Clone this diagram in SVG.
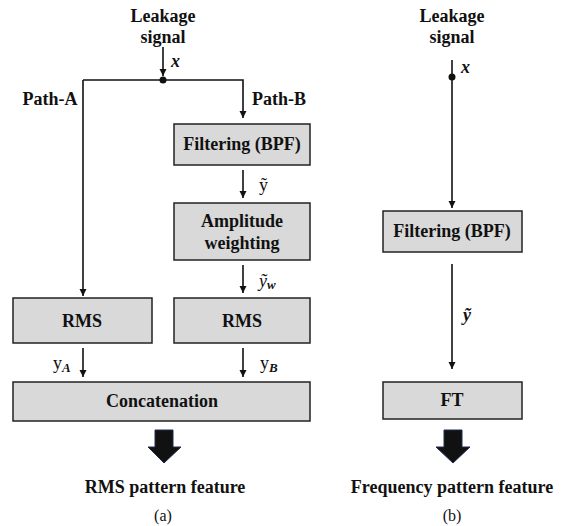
<svg xmlns="http://www.w3.org/2000/svg" width="575" height="526" viewBox="0 0 575 526" font-family="Liberation Serif, Times New Roman, serif">
<style>
text{fill:#111}
.b{font-weight:bold;font-size:18px}
.box{fill:#d9d9d9;stroke:#222;stroke-width:1.5}
.ln{fill:none;stroke:#111;stroke-width:1.6}
.big{fill:#111;stroke:#1f2d4d;stroke-width:1}
</style>
<defs>
<marker id="ah" markerWidth="10" markerHeight="10" refX="8" refY="5" orient="auto" markerUnits="userSpaceOnUse">
<path d="M1,1.5 L8,5 L1,8.5 Z" fill="#111"/>
</marker>
</defs>
<rect width="575" height="526" fill="#fff"/>
<g id="connectors">
<line class="ln" x1="163" y1="47" x2="163" y2="76" marker-end="url(#ah)"/>
<polyline class="ln" points="83,80 243,80 243,118" marker-end="url(#ah)"/>
<line class="ln" x1="83" y1="80" x2="83" y2="296" marker-end="url(#ah)"/>
<circle cx="163" cy="80" r="3.5" fill="#111"/>
<line class="ln" x1="243" y1="170" x2="243" y2="198" marker-end="url(#ah)"/>
<line class="ln" x1="243" y1="265" x2="243" y2="293" marker-end="url(#ah)"/>
<line class="ln" x1="83" y1="348" x2="83" y2="377" marker-end="url(#ah)"/>
<line class="ln" x1="243" y1="348" x2="243" y2="377" marker-end="url(#ah)"/>
<path class="big" d="M155,430 H173 V447 H181 L164,463 L148,447 H155 Z"/>
<line class="ln" x1="452" y1="60" x2="452" y2="208" marker-end="url(#ah)"/>
<circle cx="452" cy="77" r="3.5" fill="#111"/>
<line class="ln" x1="452" y1="264" x2="452" y2="369" marker-end="url(#ah)"/>
<path class="big" d="M444,430 H462 V447 H470 L453,463 L436,447 H444 Z"/>
</g>
<g id="labels">
<text class="b" x="163" y="22" text-anchor="middle">Leakage</text>
<text class="b" x="163" y="43" text-anchor="middle">signal</text>
<text x="171" y="67" font-size="18" font-style="italic" font-weight="bold">x</text>
<text class="b" x="50" y="105" text-anchor="middle">Path-A</text>
<text class="b" x="252" y="105">Path-B</text>
<text x="259" y="191" font-size="18">ỹ</text>
<text x="259" y="287" font-size="18" font-style="italic">ỹ<tspan font-size="13" font-weight="bold" dy="2">w</tspan></text>
<text x="53" y="369" font-size="18">y<tspan font-size="13" font-weight="bold" font-style="italic" dy="3">A</tspan></text>
<text x="260" y="369" font-size="18">y<tspan font-size="13" font-weight="bold" font-style="italic" dy="3">B</tspan></text>
<text class="b" x="165" y="493" text-anchor="middle">RMS pattern feature</text>
<text x="163" y="521" font-size="16" text-anchor="middle">(a)</text>
<text class="b" x="452" y="22" text-anchor="middle">Leakage</text>
<text class="b" x="452" y="43" text-anchor="middle">signal</text>
<text x="461" y="73" font-size="18" font-style="italic" font-weight="bold">x</text>
<text x="463" y="321" font-size="18" font-style="italic" font-weight="bold">ỹ</text>
<text class="b" x="452" y="493" text-anchor="middle">Frequency pattern feature</text>
<text x="452" y="521" font-size="16" text-anchor="middle">(b)</text>
</g>
<g id="filterA"><rect class="box" x="174" y="124" width="136" height="41"/><text class="b" x="242" y="150" text-anchor="middle">Filtering (BPF)</text></g>
<g id="amp"><rect class="box" x="174" y="203" width="136" height="57"/><text class="b" x="242" y="227" text-anchor="middle">Amplitude</text><text class="b" x="242" y="249" text-anchor="middle">weighting</text></g>
<g id="rmsA"><rect class="box" x="13" y="298" width="139" height="45"/><text class="b" x="82" y="327" text-anchor="middle">RMS</text></g>
<g id="rmsB"><rect class="box" x="174" y="298" width="136" height="45"/><text class="b" x="242" y="327" text-anchor="middle">RMS</text></g>
<g id="concat"><rect class="box" x="13" y="382" width="297" height="39"/><text class="b" x="162" y="407" text-anchor="middle">Concatenation</text></g>
<g id="filterB"><rect class="box" x="383" y="211" width="139" height="41"/><text class="b" x="452" y="237" text-anchor="middle">Filtering (BPF)</text></g>
<g id="ft"><rect class="box" x="383" y="382" width="139" height="37"/><text class="b" x="452" y="406" text-anchor="middle">FT</text></g>
</svg>
